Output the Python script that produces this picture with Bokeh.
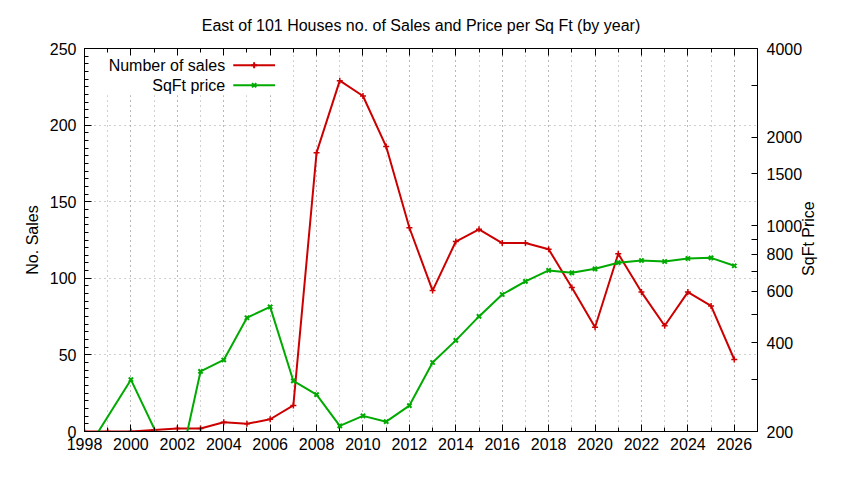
import math
from bokeh.plotting import figure
from bokeh.models import (Range1d, LinearAxis, LogAxis, LogScale, FixedTicker,
                          SingleIntervalTicker, BasicTickFormatter, Label,
                          BoxAnnotation, ColumnDataSource)
from bokeh.embed import file_html
from bokeh.resources import INLINE

# ---------------- data ----------------
years = list(range(1998, 2027))
sales = [0, 0, 0, 1, 2, 2, 6, 5, 8, 17, 182, 229, 219, 186, 133, 92, 124, 132,
         123, 123, 119, 94, 68, 116, 91, 69, 91, 82, 47]
sqft_price = [168, None, 300, None, 140, 320, 350, 487, 530, 297, 267, 209, 226,
              216, 245, 343, 408, 492, 584, 647, 705, 692, 714, 749, 762, 756,
              774, 778, 731]
left_ticks = [0, 50, 100, 150, 200, 250]
right_ticks = [200, 400, 600, 800, 1000, 1500, 2000, 4000]
right_minor_ticks = [300, 500, 700, 900, 3000]
title_text = "East of 101 Houses no. of Sales and Price per Sq Ft (by year)"
left_label = "No. Sales"
right_label = "SqFt Price"
series_names = ["Number of sales", "SqFt price"]

# ---------------- style ----------------
FONT = "Liberation Sans"
RED = "#cc0000"
GREEN = "#00aa00"
GRID = "#a0a0a0"
W, H = 828, 464
RIGHT_LABEL_PAD = "\u00a0" * 35   # lifts the bottom-anchored label to mid height

p = figure(width=W, height=H, x_range=Range1d(1998, 2027),
           y_range=Range1d(0, 250), output_backend="svg", toolbar_location=None,
           min_border_left=84, min_border_right=69, min_border_top=48,
           min_border_bottom=33)
p.extra_y_ranges = {"price": Range1d(200, 4000)}
p.extra_y_scales = {"price": LogScale()}

p.background_fill_color = "white"
p.border_fill_color = "white"
p.outline_line_color = "black"
p.outline_line_width = 1

p.title.text = title_text
p.title.align = "center"
p.title.text_font = FONT
p.title.text_font_size = "16px"
p.title.text_font_style = "normal"
p.title.text_color = "black"
p.title.standoff = 29

xticker = SingleIntervalTicker(interval=2, num_minor_ticks=2)

# bottom x axis
xa = p.xaxis[0]
xa.ticker = xticker
xa.formatter = BasicTickFormatter(use_scientific=False)

# left y axis
ya = p.yaxis[0]
ya.ticker = SingleIntervalTicker(interval=50, num_minor_ticks=10)
ya.axis_label = left_label

# right log axis
ra = LogAxis(y_range_name="price",
             ticker=FixedTicker(ticks=right_ticks, minor_ticks=right_minor_ticks),
             formatter=BasicTickFormatter(use_scientific=False),
             axis_label=RIGHT_LABEL_PAD + right_label)
p.add_layout(ra, "right")

# top mirror axis (ticks only)
ta = LinearAxis(ticker=xticker)
p.add_layout(ta, "above")

for ax in [xa, ya, ra, ta]:
    ax.axis_line_color = "black"
    ax.major_tick_line_color = "black"
    ax.minor_tick_line_color = "black"
    ax.major_tick_out = 0
    ax.minor_tick_out = 0
    ax.major_tick_in = 7
    ax.minor_tick_in = 4
    ax.major_label_text_font = FONT
    ax.major_label_text_font_size = "16px"
    ax.major_label_text_color = "black"
    ax.axis_label_text_font = FONT
    ax.axis_label_text_font_size = "16px"
    ax.axis_label_text_font_style = "normal"
    ax.axis_label_text_color = "black"

ra.major_tick_in = 6
ra.minor_tick_in = 6
xa.major_label_standoff = 6
ya.major_label_standoff = 8
ra.major_label_standoff = 9
ya.axis_label_standoff = 6
ra.axis_label_standoff = 3
ra.axis_label_orientation = math.pi / 2
if "axis_label_align" in ra.properties():
    ra.axis_label_align = "start"
ta.major_label_text_font_size = "1px"
ta.major_label_text_color = None
ta.major_label_standoff = 0

# grids
p.xgrid.ticker = xticker
p.xgrid.grid_line_color = GRID
p.xgrid.grid_line_dash = "1 4"
p.xgrid.minor_grid_line_color = GRID
p.xgrid.minor_grid_line_dash = "1 4"
p.ygrid.ticker = FixedTicker(ticks=left_ticks)
p.ygrid.grid_line_color = GRID
p.ygrid.grid_line_dash = "1 4"

# legend background box (opaque, hides grid)
legend_x0, legend_x1 = 1998.0, 2006.45
legend_y0, legend_y1 = 219.5, 250.0
p.add_layout(BoxAnnotation(left=legend_x0, right=legend_x1, bottom=legend_y0,
                           top=legend_y1, fill_color="white", fill_alpha=1.0,
                           line_color=None, level="underlay"))

# data series
src_sales = ColumnDataSource(dict(x=years, y=sales))
p.line("x", "y", source=src_sales, line_color=RED, line_width=2)
p.scatter("x", "y", source=src_sales, marker="cross", size=6, line_color=RED,
          line_width=1.5)

px = [yr for yr, v in zip(years, sqft_price) if v is not None]
pv = [v for v in sqft_price if v is not None]
src_price = ColumnDataSource(dict(x=px, y=pv))
p.line("x", "y", source=src_price, y_range_name="price", line_color=GREEN,
       line_width=2)
p.scatter("x", "y", source=src_price, y_range_name="price", marker="x",
          size=6, line_color=GREEN, line_width=2)

# legend (gnuplot style: label right-aligned, sample to the right)
key_text_x = 2004.06
key_x0, key_x1 = 2004.41, 2006.21
key_ys = [239.0, 226.0]
for name, ky, col, mk in zip(series_names, key_ys, [RED, GREEN], ["cross", "x"]):
    p.add_layout(Label(x=key_text_x, y=ky, text=name, text_align="right",
                       text_baseline="middle", text_font=FONT,
                       text_font_size="16px", text_color="black"))
    p.line([key_x0, key_x1], [ky, ky], line_color=col, line_width=2)
    p.scatter([(key_x0 + key_x1) / 2], [ky], marker=mk, size=6, line_color=col,
              line_width=2)

open("out.html", "w").write(file_html(p, INLINE))
